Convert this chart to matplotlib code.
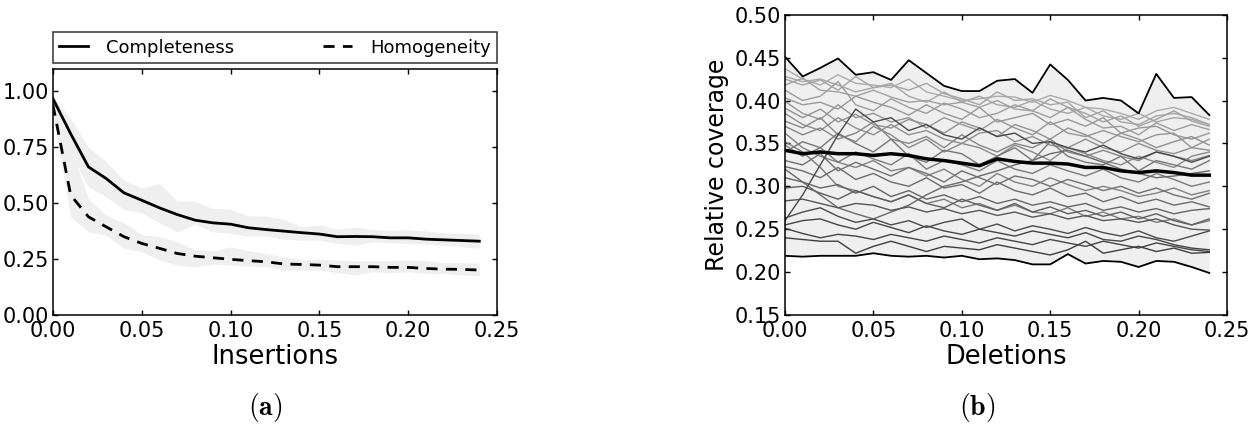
import numpy as np
import matplotlib
matplotlib.use("Agg")
import matplotlib.pyplot as plt

# ---- (a) insertions: clustering quality ----
insertions = [i / 100 for i in range(25)]

completeness = [0.967, 0.810, 0.662, 0.610, 0.546, 0.513, 0.479, 0.449, 0.424, 0.412,
                0.406, 0.390, 0.382, 0.375, 0.368, 0.362, 0.350, 0.351, 0.350, 0.345,
                0.345, 0.339, 0.336, 0.333, 0.330]
completeness_hi = [0.980, 0.878, 0.750, 0.685, 0.603, 0.568, 0.588, 0.509, 0.509, 0.476,
                   0.473, 0.443, 0.442, 0.427, 0.394, 0.402, 0.384, 0.394, 0.382, 0.379,
                   0.382, 0.375, 0.368, 0.365, 0.362]
completeness_lo = [0.950, 0.720, 0.573, 0.528, 0.472, 0.457, 0.412, 0.372, 0.405, 0.372,
                   0.365, 0.353, 0.353, 0.339, 0.335, 0.335, 0.320, 0.312, 0.327, 0.323,
                   0.320, 0.317, 0.312, 0.305, 0.298]

homogeneity = [0.940, 0.536, 0.439, 0.394, 0.350, 0.320, 0.298, 0.275, 0.263, 0.256,
               0.249, 0.243, 0.238, 0.228, 0.226, 0.223, 0.216, 0.216, 0.216, 0.213,
               0.213, 0.208, 0.205, 0.204, 0.201]
homogeneity_hi = [0.970, 0.750, 0.520, 0.446, 0.412, 0.360, 0.350, 0.327, 0.293, 0.287,
                  0.305, 0.287, 0.275, 0.260, 0.246, 0.249, 0.246, 0.243, 0.243, 0.243,
                  0.246, 0.243, 0.234, 0.234, 0.231]
homogeneity_lo = [0.900, 0.439, 0.372, 0.357, 0.298, 0.283, 0.246, 0.223, 0.216, 0.228,
                  0.223, 0.219, 0.216, 0.201, 0.201, 0.201, 0.190, 0.179, 0.193, 0.189,
                  0.193, 0.186, 0.186, 0.179, 0.176]

# ---- (b) deletions: relative coverage per run ----
deletions = [i / 100 for i in range(25)]

coverage_max = [0.451, 0.428, 0.438, 0.449, 0.430, 0.433, 0.424, 0.447, 0.432, 0.417,
                0.411, 0.411, 0.423, 0.425, 0.409, 0.442, 0.424, 0.400, 0.403, 0.400,
                0.385, 0.431, 0.403, 0.404, 0.383]
coverage_min = [0.219, 0.218, 0.219, 0.219, 0.219, 0.222, 0.219, 0.218, 0.219, 0.217,
                0.219, 0.215, 0.216, 0.214, 0.209, 0.209, 0.221, 0.210, 0.213, 0.212,
                0.206, 0.213, 0.212, 0.206, 0.199]
coverage_mean = [0.342, 0.338, 0.340, 0.338, 0.338, 0.336, 0.338, 0.336, 0.332, 0.330,
                 0.327, 0.324, 0.332, 0.329, 0.327, 0.327, 0.326, 0.322, 0.322, 0.318,
                 0.316, 0.318, 0.316, 0.313, 0.313]

run_coverage = [
    [0.437, 0.425, 0.418, 0.430, 0.420, 0.418, 0.415, 0.425, 0.410, 0.405, 0.400, 0.402, 0.405,
     0.404, 0.398, 0.406, 0.400, 0.392, 0.390, 0.385, 0.378, 0.388, 0.392, 0.385, 0.378],
    [0.428, 0.422, 0.425, 0.418, 0.410, 0.415, 0.420, 0.405, 0.398, 0.410, 0.398, 0.405, 0.395,
     0.392, 0.400, 0.390, 0.385, 0.392, 0.382, 0.378, 0.385, 0.375, 0.380, 0.378, 0.372],
    [0.425, 0.418, 0.424, 0.412, 0.428, 0.415, 0.418, 0.412, 0.420, 0.408, 0.402, 0.395, 0.410,
     0.400, 0.402, 0.395, 0.398, 0.380, 0.388, 0.375, 0.372, 0.382, 0.385, 0.380, 0.372],
    [0.418, 0.426, 0.412, 0.410, 0.405, 0.412, 0.404, 0.398, 0.400, 0.395, 0.398, 0.392, 0.400,
     0.390, 0.388, 0.402, 0.392, 0.385, 0.375, 0.382, 0.370, 0.378, 0.388, 0.376, 0.370],
    [0.412, 0.400, 0.405, 0.422, 0.395, 0.388, 0.402, 0.392, 0.385, 0.397, 0.390, 0.380, 0.385,
     0.395, 0.388, 0.380, 0.392, 0.378, 0.368, 0.370, 0.360, 0.374, 0.365, 0.372, 0.366],
    [0.403, 0.395, 0.398, 0.390, 0.405, 0.398, 0.392, 0.383, 0.395, 0.385, 0.378, 0.392, 0.375,
     0.380, 0.385, 0.372, 0.378, 0.370, 0.380, 0.362, 0.368, 0.370, 0.360, 0.355, 0.362],
    [0.399, 0.385, 0.378, 0.395, 0.380, 0.385, 0.375, 0.380, 0.368, 0.380, 0.372, 0.365, 0.378,
     0.368, 0.360, 0.375, 0.362, 0.358, 0.365, 0.358, 0.352, 0.360, 0.362, 0.345, 0.355],
    [0.391, 0.380, 0.390, 0.375, 0.384, 0.372, 0.368, 0.378, 0.372, 0.362, 0.375, 0.368, 0.358,
     0.372, 0.365, 0.355, 0.368, 0.360, 0.350, 0.362, 0.355, 0.345, 0.352, 0.358, 0.348],
    [0.385, 0.372, 0.365, 0.380, 0.368, 0.360, 0.372, 0.360, 0.365, 0.355, 0.350, 0.362, 0.365,
     0.352, 0.358, 0.348, 0.345, 0.355, 0.345, 0.340, 0.350, 0.342, 0.338, 0.345, 0.342],
    [0.376, 0.368, 0.380, 0.360, 0.352, 0.370, 0.360, 0.345, 0.355, 0.340, 0.350, 0.345, 0.335,
     0.348, 0.340, 0.330, 0.345, 0.338, 0.330, 0.325, 0.335, 0.328, 0.322, 0.335, 0.340],
    [0.370, 0.360, 0.368, 0.355, 0.362, 0.375, 0.355, 0.350, 0.358, 0.345, 0.360, 0.348, 0.340,
     0.350, 0.345, 0.355, 0.340, 0.335, 0.342, 0.335, 0.330, 0.340, 0.335, 0.330, 0.336],
    [0.362, 0.345, 0.335, 0.328, 0.322, 0.330, 0.318, 0.322, 0.312, 0.320, 0.308, 0.300, 0.315,
     0.305, 0.300, 0.310, 0.302, 0.295, 0.300, 0.295, 0.288, 0.292, 0.298, 0.290, 0.295],
    [0.352, 0.340, 0.322, 0.300, 0.295, 0.288, 0.282, 0.290, 0.280, 0.285, 0.275, 0.280, 0.272,
     0.278, 0.270, 0.268, 0.275, 0.265, 0.270, 0.262, 0.265, 0.258, 0.262, 0.255, 0.260],
    [0.348, 0.335, 0.345, 0.328, 0.340, 0.332, 0.325, 0.338, 0.320, 0.330, 0.325, 0.318, 0.330,
     0.320, 0.315, 0.325, 0.318, 0.312, 0.320, 0.310, 0.305, 0.315, 0.308, 0.300, 0.305],
    [0.340, 0.352, 0.345, 0.362, 0.350, 0.340, 0.355, 0.335, 0.328, 0.342, 0.338, 0.325, 0.335,
     0.345, 0.330, 0.352, 0.335, 0.328, 0.325, 0.335, 0.318, 0.330, 0.325, 0.320, 0.330],
    [0.330, 0.325, 0.338, 0.318, 0.328, 0.320, 0.312, 0.322, 0.315, 0.305, 0.318, 0.310, 0.302,
     0.312, 0.308, 0.300, 0.308, 0.302, 0.295, 0.300, 0.292, 0.298, 0.290, 0.285, 0.292],
    [0.323, 0.318, 0.310, 0.322, 0.308, 0.315, 0.305, 0.300, 0.310, 0.298, 0.302, 0.292, 0.305,
     0.295, 0.290, 0.298, 0.288, 0.292, 0.282, 0.288, 0.280, 0.285, 0.278, 0.282, 0.276],
    [0.320, 0.305, 0.290, 0.275, 0.268, 0.262, 0.270, 0.278, 0.290, 0.300, 0.305, 0.312, 0.318,
     0.325, 0.330, 0.338, 0.342, 0.335, 0.328, 0.320, 0.315, 0.310, 0.312, 0.315, 0.318],
    [0.310, 0.305, 0.298, 0.302, 0.292, 0.300, 0.288, 0.295, 0.285, 0.290, 0.282, 0.288, 0.280,
     0.285, 0.278, 0.282, 0.276, 0.280, 0.272, 0.276, 0.270, 0.274, 0.268, 0.272, 0.274],
    [0.298, 0.300, 0.292, 0.285, 0.295, 0.288, 0.282, 0.290, 0.280, 0.275, 0.285, 0.278, 0.272,
     0.280, 0.270, 0.276, 0.268, 0.272, 0.265, 0.270, 0.262, 0.268, 0.260, 0.255, 0.262],
    [0.283, 0.285, 0.280, 0.275, 0.280, 0.278, 0.272, 0.276, 0.270, 0.274, 0.268, 0.272, 0.266,
     0.270, 0.264, 0.268, 0.262, 0.266, 0.260, 0.262, 0.258, 0.262, 0.255, 0.250, 0.249],
    [0.263, 0.270, 0.275, 0.265, 0.258, 0.262, 0.255, 0.260, 0.252, 0.258, 0.262, 0.250, 0.256,
     0.248, 0.254, 0.250, 0.245, 0.252, 0.246, 0.242, 0.248, 0.240, 0.236, 0.242, 0.248],
    [0.260, 0.290, 0.325, 0.360, 0.390, 0.375, 0.380, 0.365, 0.372, 0.360, 0.355, 0.368, 0.358,
     0.362, 0.350, 0.352, 0.345, 0.340, 0.348, 0.338, 0.332, 0.340, 0.335, 0.328, 0.335],
    [0.255, 0.260, 0.262, 0.255, 0.250, 0.258, 0.252, 0.246, 0.254, 0.248, 0.244, 0.250, 0.246,
     0.242, 0.248, 0.244, 0.240, 0.246, 0.238, 0.236, 0.242, 0.238, 0.232, 0.228, 0.226],
    [0.251, 0.245, 0.240, 0.244, 0.242, 0.238, 0.244, 0.240, 0.236, 0.242, 0.238, 0.234, 0.240,
     0.236, 0.232, 0.238, 0.234, 0.230, 0.236, 0.232, 0.228, 0.234, 0.230, 0.226, 0.224],
    [0.240, 0.238, 0.236, 0.236, 0.222, 0.230, 0.236, 0.230, 0.224, 0.230, 0.228, 0.226, 0.232,
     0.228, 0.224, 0.220, 0.226, 0.236, 0.222, 0.226, 0.230, 0.224, 0.228, 0.222, 0.223],
]

plt.rcParams["mathtext.fontset"] = "cm"
plt.rcParams["font.size"] = 15


def style_axes(ax):
    ax.tick_params(direction="in", top=True, right=True, length=3.5, width=1,
                   labelsize=15)
    ax.tick_params(axis="x", pad=4.5)
    ax.tick_params(axis="y", pad=3)
    for s in ax.spines.values():
        s.set_linewidth(1.1)


fig = plt.figure(figsize=(12.6, 4.25), dpi=100)

# (a)
ax1 = fig.add_axes([0.042, 0.2588, 0.3525, 0.579])
ax1.fill_between(insertions, completeness_lo, completeness_hi, color="#efefef", lw=0)
ax1.fill_between(insertions, homogeneity_lo, homogeneity_hi, color="#efefef", lw=0)
ax1.plot(insertions, completeness, color="black", lw=2, label="Completeness")
ax1.plot(insertions, homogeneity, color="black", lw=2, ls="--", dashes=(4, 3),
         label="Homogeneity")
ax1.set_xlim(0, 0.25)
ax1.set_ylim(0, 1.1)
ax1.set_xticks([0, 0.05, 0.10, 0.15, 0.20, 0.25])
ax1.set_yticks([0, 0.25, 0.5, 0.75, 1.0])
ax1.xaxis.set_major_formatter(plt.FormatStrFormatter("%.2f"))
ax1.yaxis.set_major_formatter(plt.FormatStrFormatter("%.2f"))
ax1.set_xlabel("Insertions", fontsize=18.5, labelpad=2)
style_axes(ax1)
leg = ax1.legend(loc="lower left", bbox_to_anchor=(0, 1.0245, 1, 0.13), mode="expand",
                 ncol=2, borderaxespad=0, fancybox=False, fontsize=13,
                 handlelength=1.6, handletextpad=1.0, borderpad=0.35)
leg.get_frame().set_edgecolor("black")
leg.get_frame().set_linewidth(1.1)

# (b)
ax2 = fig.add_axes([0.623, 0.2588, 0.3508, 0.7066])
ax2.fill_between(deletions, coverage_min, coverage_max, color="#efefef", lw=0)
for run in run_coverage:
    shade = 0.2 + 0.5 * (run[0] - 0.22) / (0.45 - 0.22)
    ax2.plot(deletions, run, color=str(round(shade, 3)), lw=1)
ax2.plot(deletions, coverage_max, color="black", lw=1.3)
ax2.plot(deletions, coverage_min, color="black", lw=1.3)
ax2.plot(deletions, coverage_mean, color="black", lw=2.5)
ax2.set_xlim(0, 0.25)
ax2.set_ylim(0.15, 0.50)
ax2.set_xticks([0, 0.05, 0.10, 0.15, 0.20, 0.25])
ax2.set_yticks([0.15, 0.20, 0.25, 0.30, 0.35, 0.40, 0.45, 0.50])
ax2.xaxis.set_major_formatter(plt.FormatStrFormatter("%.2f"))
ax2.yaxis.set_major_formatter(plt.FormatStrFormatter("%.2f"))
ax2.set_xlabel("Deletions", fontsize=18.5, labelpad=2)
ax2.set_ylabel("Relative coverage", fontsize=17, labelpad=4)
style_axes(ax2)

fig.text(0.2103, 0.04, r"$\mathbf{(a)}$", ha="center", va="center", fontsize=20)
fig.text(0.7754, 0.04, r"$\mathbf{(b)}$", ha="center", va="center", fontsize=20)

fig.savefig("out.png", dpi=100)
